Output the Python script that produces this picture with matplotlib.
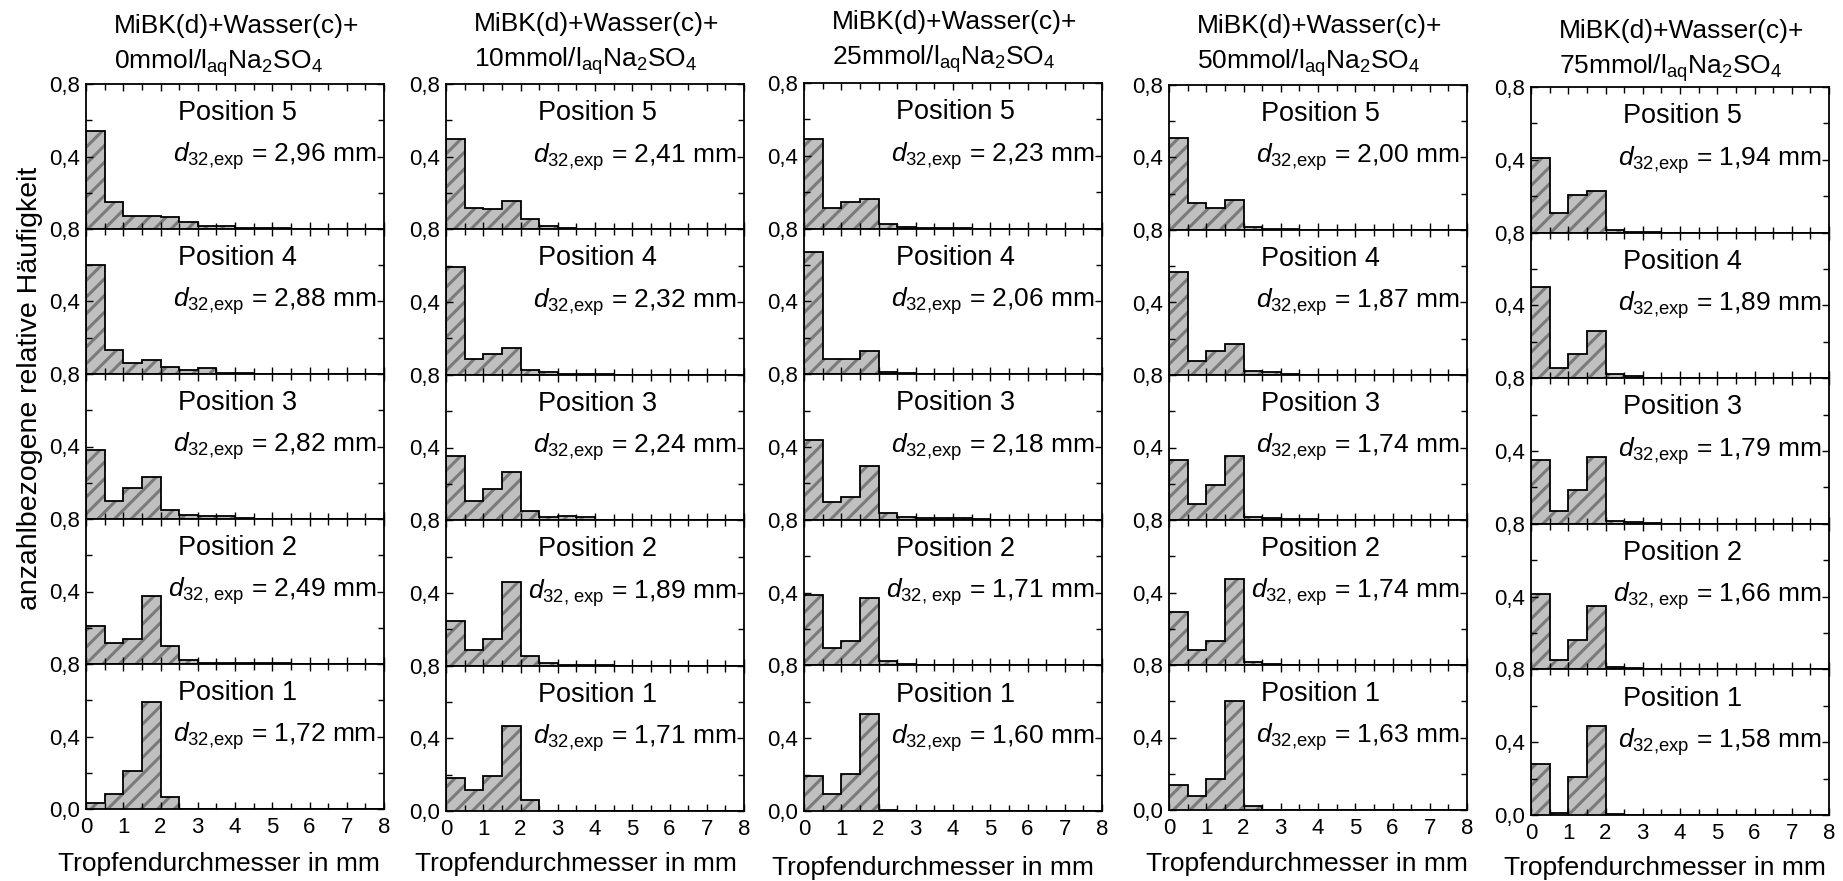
import numpy as np
import matplotlib
matplotlib.use("Agg")
import matplotlib.pyplot as plt
from matplotlib.ticker import MultipleLocator

plt.rcParams['font.family'] = ['Liberation Sans', 'DejaVu Sans']
plt.rcParams['mathtext.fontset'] = 'custom'
plt.rcParams['mathtext.rm'] = 'Liberation Sans'
plt.rcParams['mathtext.it'] = 'Liberation Sans:italic'
plt.rcParams['hatch.linewidth'] = 2.2

# bin edges of the drop size histograms (mm)
edges = np.arange(0, 8.01, 0.5)

positions = ['Position 5', 'Position 4', 'Position 3', 'Position 2', 'Position 1']
concentrations = ['0', '10', '25', '50', '75']

# relative frequencies, rows = Position 5 ... Position 1
h_0mmol = [
    [0.54, 0.147, 0.074, 0.074, 0.066, 0.039, 0.016, 0.016, 0.005, 0.004, 0.003, 0.002, 0.001, 0.001, 0, 0],
    [0.60, 0.13, 0.058, 0.079, 0.039, 0.021, 0.031, 0.004, 0.003, 0.002, 0.002, 0.001, 0.001, 0, 0, 0],
    [0.38, 0.10, 0.17, 0.23, 0.052, 0.023, 0.018, 0.018, 0.003, 0.002, 0.002, 0.002, 0.001, 0.001, 0.001, 0],
    [0.212, 0.118, 0.14, 0.375, 0.098, 0.022, 0.008, 0.008, 0.004, 0.004, 0.003, 0.002, 0.002, 0.001, 0, 0],
    [0.034, 0.083, 0.212, 0.589, 0.068, 0, 0, 0, 0, 0, 0, 0, 0, 0, 0, 0],
]
h_10mmol = [
    [0.50, 0.117, 0.112, 0.154, 0.058, 0.018, 0.005, 0.003, 0.002, 0.001, 0, 0, 0, 0, 0, 0],
    [0.592, 0.088, 0.116, 0.145, 0.029, 0.017, 0.006, 0.005, 0.003, 0.001, 0, 0, 0, 0, 0, 0],
    [0.355, 0.108, 0.172, 0.266, 0.05, 0.018, 0.025, 0.018, 0.002, 0.001, 0, 0, 0, 0, 0, 0],
    [0.248, 0.084, 0.144, 0.46, 0.052, 0.016, 0.004, 0.002, 0.001, 0, 0, 0, 0, 0, 0, 0],
    [0.183, 0.118, 0.19, 0.47, 0.06, 0, 0, 0, 0, 0, 0, 0, 0, 0, 0, 0],
]
h_25mmol = [
    [0.49, 0.112, 0.144, 0.162, 0.024, 0.008, 0.003, 0.002, 0.001, 0, 0, 0, 0, 0, 0, 0],
    [0.67, 0.084, 0.084, 0.128, 0.013, 0.005, 0.002, 0.001, 0, 0, 0, 0, 0, 0, 0, 0],
    [0.44, 0.097, 0.123, 0.293, 0.039, 0.013, 0.008, 0.008, 0.008, 0.002, 0, 0, 0, 0, 0, 0],
    [0.387, 0.097, 0.136, 0.371, 0.026, 0.005, 0.001, 0, 0, 0, 0, 0, 0, 0, 0, 0],
    [0.19, 0.092, 0.204, 0.535, 0.003, 0, 0, 0, 0, 0, 0, 0, 0, 0, 0, 0],
]
h_50mmol = [
    [0.51, 0.149, 0.12, 0.167, 0.016, 0.004, 0.008, 0.002, 0, 0, 0, 0, 0, 0, 0, 0],
    [0.566, 0.079, 0.134, 0.173, 0.021, 0.018, 0.004, 0.002, 0, 0, 0, 0, 0, 0, 0, 0],
    [0.33, 0.089, 0.194, 0.354, 0.016, 0.01, 0.008, 0.003, 0, 0, 0, 0, 0, 0, 0, 0],
    [0.293, 0.084, 0.131, 0.474, 0.016, 0.005, 0.001, 0, 0, 0, 0, 0, 0, 0, 0, 0],
    [0.136, 0.079, 0.173, 0.604, 0.021, 0, 0, 0, 0, 0, 0, 0, 0, 0, 0, 0],
]
h_75mmol = [
    [0.41, 0.107, 0.209, 0.226, 0.013, 0.006, 0.002, 0, 0, 0, 0, 0, 0, 0, 0, 0],
    [0.50, 0.058, 0.131, 0.262, 0.021, 0.013, 0.003, 0, 0, 0, 0, 0, 0, 0, 0, 0],
    [0.35, 0.071, 0.184, 0.367, 0.013, 0.008, 0.004, 0, 0, 0, 0, 0, 0, 0, 0, 0],
    [0.412, 0.05, 0.163, 0.35, 0.012, 0.007, 0.002, 0, 0, 0, 0, 0, 0, 0, 0, 0],
    [0.28, 0.013, 0.207, 0.489, 0.006, 0, 0, 0, 0, 0, 0, 0, 0, 0, 0, 0],
]

d32_0mmol = ['2,96', '2,88', '2,82', '2,49', '1,72']
d32_10mmol = ['2,41', '2,32', '2,24', '1,89', '1,71']
d32_25mmol = ['2,23', '2,06', '2,18', '1,71', '1,60']
d32_50mmol = ['2,00', '1,87', '1,74', '1,74', '1,63']
d32_75mmol = ['1,94', '1,89', '1,79', '1,66', '1,58']

hists = [h_0mmol, h_10mmol, h_25mmol, h_50mmol, h_75mmol]
d32s = [d32_0mmol, d32_10mmol, d32_25mmol, d32_50mmol, d32_75mmol]

W, H = 1843, 881
fig = plt.figure(figsize=(W / 100, H / 100), dpi=100)

# layout in pixels (left, top, bottom of the stack) per column
lefts = [86, 446, 804, 1169, 1531]
tops = [84, 84, 83, 85, 87]
bottoms = [809, 811, 811, 810, 815]
title_base = [33, 31, 29, 33, 38]
xlabel_shift = [-16, -19, -20, -11, -15]
xlabel_y = [864, 864, 868, 864, 868]
col_w = 298

for c in range(5):
    ph = (bottoms[c] - tops[c]) / 5
    for r in range(5):
        y0 = bottoms[c] - (5 - r) * ph
        ax = fig.add_axes([lefts[c] / W, 1 - (y0 + ph) / H, col_w / W, ph / H])
        vals = hists[c][r]
        ax.stairs(vals, edges, fill=True, facecolor='#c0c0c0', edgecolor='#7a7a7a',
                  hatch='//', linewidth=0)
        ax.stairs(vals, edges, color='black', linewidth=1.3)
        ax.set_xlim(0, 8)
        ax.set_ylim(0, 0.8)
        ax.set_xticks(range(9))
        ax.xaxis.set_minor_locator(MultipleLocator(0.5))
        ax.set_yticks([0, 0.4, 0.8])
        ax.yaxis.set_minor_locator(MultipleLocator(0.2))
        if r == 4:
            ax.set_yticklabels(['0,0', '0,4', '0,8'])
            ax.set_xticklabels([str(i) for i in range(9)])
        else:
            ax.set_yticklabels(['', '0,4', '0,8'])
            ax.set_xticklabels([])
        ax.tick_params(which='both', direction='in', top=True, right=True,
                       labelsize=16, width=1.0, pad=4)
        ax.tick_params(which='major', length=5)
        ax.tick_params(which='minor', length=4)
        ax.tick_params(axis='x', pad=6)
        for s in ax.spines.values():
            s.set_linewidth(1.3)
        ax.text(0.31, 0.80, positions[r], transform=ax.transAxes, fontsize=19.5,
                ha='left', va='center')
        sub = r'32{,}\ exp' if r == 3 else r'32{,}exp'
        ax.text(0.975, 0.50, r'$d_{\mathregular{' + sub + r'}}$' + ' = ' + d32s[c][r] + ' mm',
                transform=ax.transAxes, fontsize=19, ha='right', va='center')

    fig.text((lefts[c] + 28) / W, 1 - title_base[c] / H, 'MiBK(d)+Wasser(c)+',
             fontsize=19, ha='left', va='baseline')
    fig.text((lefts[c] + 28) / W, 1 - (title_base[c] + 36) / H,
             concentrations[c] + r'mmol/l$_{\mathregular{aq}}$Na$_{\mathregular{2}}$SO$_{\mathregular{4}}$',
             fontsize=19, ha='left', va='baseline')
    fig.text((lefts[c] + col_w / 2 + xlabel_shift[c]) / W, 1 - xlabel_y[c] / H,
             'Tropfendurchmesser in mm', fontsize=19, ha='center', va='center')

fig.text(30 / W, 1 - 388 / H, 'anzahlbezogene relative Häufigkeit', rotation=90,
         fontsize=20.5, ha='center', va='center')

fig.savefig('out.png', dpi=100)
